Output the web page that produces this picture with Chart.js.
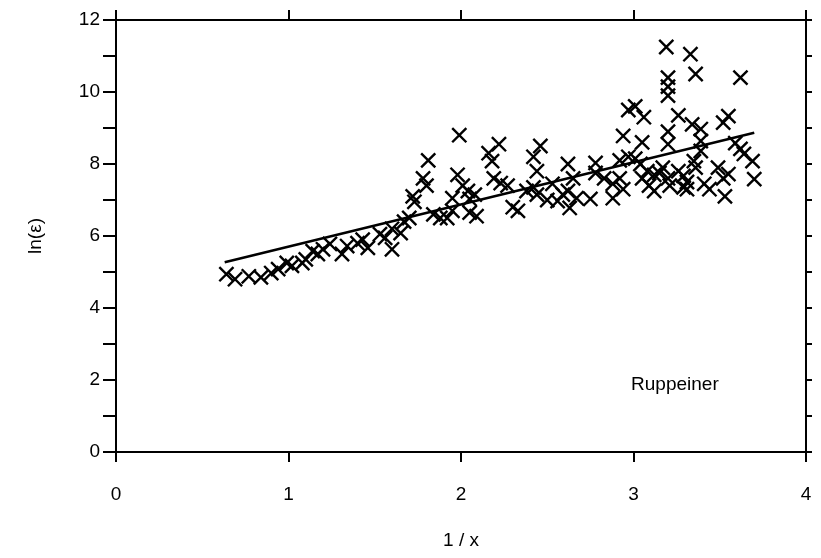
<!DOCTYPE html>
<html>
<head>
<meta charset="utf-8">
<script src="https://cdn.jsdelivr.net/npm/chart.js@4.4.1/dist/chart.umd.min.js"></script>
<style>
  html, body { margin: 0; padding: 0; background: #fff; }
  canvas { display: block; }
</style>
</head>
<body>
<canvas id="chart" width="821" height="558"></canvas>
<script>
// Data
const xTicks = [0, 1, 2, 3, 4];
const yTicks = [0, 2, 4, 6, 8, 10, 12];

const pointsX = [
    0.64, 0.69, 0.77, 0.84, 0.90, 0.94, 0.99, 1.02, 1.08, 1.10,
    1.14, 1.17, 1.20, 1.24, 1.31, 1.34, 1.40, 1.43, 1.46, 1.53,
    1.56, 1.60, 1.60, 1.65, 1.67, 1.70, 1.72, 1.73, 1.78, 1.80,
    1.81, 1.84, 1.88, 1.92, 1.95, 1.95, 1.98, 1.99, 2.01, 2.04,
    2.05, 2.05, 2.08, 2.09, 2.16, 2.18, 2.19, 2.22, 2.23, 2.27,
    2.30, 2.33, 2.38, 2.42, 2.42, 2.44, 2.44, 2.46, 2.50, 2.53,
    2.56, 2.59, 2.62, 2.62, 2.63, 2.67, 2.65, 2.75, 2.78, 2.78,
    2.83, 2.88, 2.88, 2.92, 2.94, 2.92, 2.94, 2.97, 3.01, 2.97,
    3.01, 3.04, 3.05, 3.06, 3.05, 3.09, 3.12, 3.08, 3.12, 3.15,
    3.17, 3.20, 3.21, 3.20, 3.20, 3.19, 3.20, 3.20, 3.20, 3.26,
    3.26, 3.29, 3.29, 3.31, 3.31, 3.33, 3.36, 3.34, 3.39, 3.39,
    3.39, 3.35, 3.36, 3.41, 3.44, 3.49, 3.52, 3.55, 3.53, 3.52,
    3.55, 3.59, 3.62, 3.64, 3.62, 3.69, 3.70
];
const pointsY = [
    4.94, 4.80, 4.88, 4.85, 4.97, 5.08, 5.25, 5.17, 5.25, 5.35,
    5.58, 5.50, 5.63, 5.78, 5.50, 5.72, 5.80, 5.90, 5.67, 6.05,
    5.95, 5.63, 6.20, 6.08, 6.40, 6.50, 7.10, 6.95, 7.60, 7.40,
    8.10, 6.60, 6.50, 6.50, 6.70, 7.05, 7.70, 8.80, 7.40, 7.25,
    7.03, 6.65, 7.15, 6.55, 8.30, 8.08, 7.60, 8.55, 7.47, 7.40,
    6.80, 6.70, 7.25, 7.35, 8.20, 7.80, 7.15, 8.50, 7.00, 7.45,
    6.97, 7.15, 8.00, 7.25, 6.78, 7.05, 7.60, 7.03, 8.03, 7.75,
    7.60, 7.45, 7.05, 7.60, 7.30, 8.10, 8.78, 9.50, 9.60, 8.20,
    8.15, 8.00, 8.60, 9.30, 7.60, 7.40, 7.25, 7.80, 7.70, 7.75,
    7.90, 7.60, 7.40, 8.90, 8.55, 11.25, 10.40, 10.15, 9.90, 9.35,
    7.80, 7.67, 7.35, 7.50, 7.30, 11.05, 10.50, 9.10, 8.97, 8.64,
    8.36, 8.08, 7.90, 7.45, 7.30, 7.90, 7.60, 7.72, 7.10, 9.15,
    9.33, 8.58, 8.42, 8.28, 10.40, 8.08, 7.58
];

// Fitted line end points
const fitX = [0.63, 3.70];
const fitY = [5.27, 8.87];

const labelText = 'Ruppeiner';
const labelPos = { x: 3.24, y: 1.86 };

const FONT = "'Liberation Sans', Arial, sans-serif";

const scatterData = pointsX.map((x, i) => ({ x: x, y: pointsY[i] }));
const fitData = fitX.map((x, i) => ({ x: x, y: fitY[i] }));

// Text label inside the plot
const labelPlugin = {
    id: 'labelPlugin',
    afterDatasetsDraw(chart) {
        const ctx = chart.ctx;
        const xs = chart.scales.x;
        const ys = chart.scales.y;
        ctx.save();
        ctx.font = '19px ' + FONT;
        ctx.fillStyle = '#000';
        ctx.textAlign = 'center';
        ctx.textBaseline = 'middle';
        ctx.fillText(labelText, xs.getPixelForValue(labelPos.x), ys.getPixelForValue(labelPos.y));
        ctx.restore();
    }
};

// pin axis box sizes and drop the label padding so the plot area matches the figure
function fixSize(prop, size) {
    return function (scale) {
        scale[prop] = size;
        scale.paddingLeft = 0;
        scale.paddingRight = 0;
        scale.paddingTop = 0;
        scale.paddingBottom = 0;
    };
}

const ctx = document.getElementById('chart').getContext('2d');
new Chart(ctx, {
    type: 'scatter',
    data: {
        datasets: [{
            type: 'line',
            data: fitData,
            borderColor: '#000',
            borderWidth: 2.5,
            pointRadius: 0,
            fill: false,
            order: 1
        }, {
            data: scatterData,
            pointStyle: 'crossRot',
            pointRadius: 10,
            borderColor: '#000',
            backgroundColor: '#000',
            pointBorderWidth: 2.4,
            borderWidth: 2.4,
            order: 0
        }]
    },
    options: {
        responsive: false,
        animation: false,
        events: [],
        layout: { padding: 0, autoPadding: false },
        plugins: {
            legend: { display: false },
            tooltip: { enabled: false }
        },
        scales: {
            x: {
                type: 'linear',
                position: 'bottom',
                min: 0,
                max: 4,
                afterBuildTicks: (s) => { s.ticks = xTicks.map(v => ({ value: v })); },
                afterFit: fixSize('height', 106),
                border: { display: true, color: '#000', width: 2 },
                grid: { drawOnChartArea: false, drawTicks: true, tickLength: 10, color: '#000', lineWidth: 2 },
                ticks: { color: '#000', font: { family: FONT, size: 19 }, padding: 21, maxRotation: 0 },
                title: { display: true, text: '1 / x', color: '#000', font: { family: FONT, size: 19 }, padding: { top: 4, bottom: 6 } }
            },
            y: {
                type: 'linear',
                position: 'left',
                min: 0,
                max: 12,
                afterBuildTicks: (s) => {
                    const t = [];
                    for (let v = 0; v <= 12; v++) t.push({ value: v });
                    s.ticks = t;
                },
                afterFit: fixSize('width', 116),
                border: { display: true, color: '#000', width: 2 },
                grid: { drawOnChartArea: false, drawTicks: true, tickLength: 13, color: '#000', lineWidth: 2 },
                ticks: {
                    color: '#000',
                    font: { family: FONT, size: 19 },
                    padding: 3,
                    callback: (v) => yTicks.includes(v) ? String(v) : ''
                },
                title: { display: true, text: 'ln(ε)', color: '#000', font: { family: FONT, size: 19 }, padding: { top: 24, bottom: 0 } }
            },
            x2: {
                type: 'linear',
                position: 'top',
                min: 0,
                max: 4,
                afterBuildTicks: (s) => { s.ticks = xTicks.map(v => ({ value: v })); },
                afterFit: fixSize('height', 20),
                border: { display: true, color: '#000', width: 2 },
                grid: { drawOnChartArea: false, drawTicks: true, tickLength: 10, color: '#000', lineWidth: 2 },
                ticks: { display: false }
            },
            y2: {
                type: 'linear',
                position: 'right',
                min: 0,
                max: 12,
                afterBuildTicks: (s) => {
                    const t = [];
                    for (let v = 0; v <= 12; v++) t.push({ value: v });
                    s.ticks = t;
                },
                afterFit: fixSize('width', 15),
                border: { display: true, color: '#000', width: 2 },
                grid: { drawOnChartArea: false, drawTicks: true, tickLength: 6, color: '#000', lineWidth: 2 },
                ticks: { display: false }
            }
        }
    },
    plugins: [labelPlugin]
});
</script>
</body>
</html>
